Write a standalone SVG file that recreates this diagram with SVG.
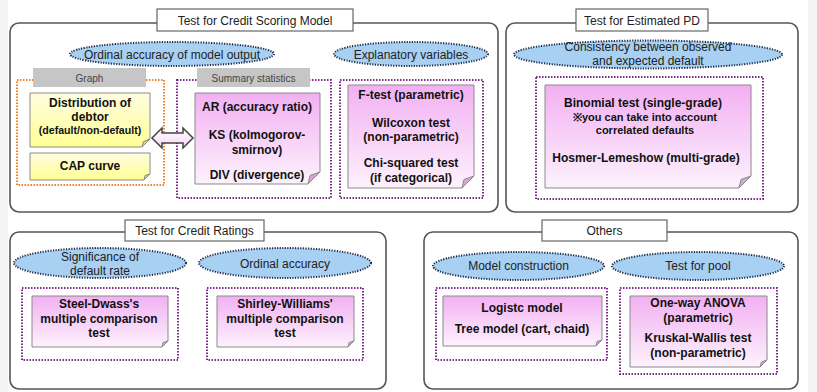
<svg xmlns="http://www.w3.org/2000/svg" width="817" height="392" viewBox="0 0 817 392">
<defs>
<linearGradient id="pink" x1="0" y1="0" x2="0" y2="1">
<stop offset="0" stop-color="#f2b0f2"/>
<stop offset="1" stop-color="#fdf2fd"/>
</linearGradient>
<linearGradient id="yellow" x1="0" y1="0" x2="0" y2="1">
<stop offset="0" stop-color="#fffde0"/>
<stop offset="1" stop-color="#ffff94"/>
</linearGradient>
<linearGradient id="arrowfill" x1="0" y1="0" x2="0" y2="1">
<stop offset="0" stop-color="#ffffff"/>
<stop offset="1" stop-color="#f6d6f6"/>
</linearGradient>
</defs>
<style>
.panel{fill:#ffffff;stroke:#555555;stroke-width:1.6}
.title{fill:#ffffff;stroke:#666666;stroke-width:1.2}
.tt{font-family:"Liberation Sans",Arial,sans-serif;font-size:12px;fill:#222222;text-anchor:middle}
.ell{fill:#a8d0f2;stroke:#1e2a48;stroke-width:2;stroke-dasharray:1.2 1.4}
.et{font-family:"Liberation Sans",Arial,sans-serif;font-size:12px;fill:#222222;text-anchor:middle}
.purp{fill:none;stroke:#7a2a88;stroke-width:2;stroke-dasharray:1.5 1.5}
.orng{fill:none;stroke:#f0802a;stroke-width:2;stroke-dasharray:1.5 1.5}
.lab{fill:#c6c6c6}
.lt{font-family:"Liberation Sans",Arial,sans-serif;font-size:10px;fill:#444444;text-anchor:middle}
.pk{fill:url(#pink);stroke:#8a8a8a;stroke-width:1}
.yl{fill:url(#yellow);stroke:#8a8a8a;stroke-width:1}
.fpk{fill:#d6a6d6;stroke:#8a8a8a;stroke-width:1}
.fyl{fill:#d8d488;stroke:#8a8a8a;stroke-width:1}
.bt{font-family:"Liberation Sans",Arial,sans-serif;font-size:12px;font-weight:bold;fill:#111111;text-anchor:middle}
.bs{font-family:"Liberation Sans",Arial,sans-serif;font-size:10.6px;font-weight:bold;fill:#111111;text-anchor:middle}
</style>
<rect x="0" y="0" width="817" height="392" fill="#ffffff"/>
<rect x="0" y="0" width="8" height="392" fill="#f4f4f4"/>
<rect x="808" y="0" width="9" height="392" fill="#f4f4f4"/>

<!-- Panel 1 -->
<g id="panel-credit-scoring">
<rect class="panel" x="10" y="23" width="488" height="189" rx="9"/>
<rect class="title" x="157" y="9" width="196" height="22"/>
<text class="tt" x="255" y="24.5">Test for Credit Scoring Model</text>
</g>
<g id="ell-ordinal">
<ellipse class="ell" cx="172" cy="54" rx="102" ry="12"/>
<text class="et" x="172" y="58.5">Ordinal accuracy of model output</text>
</g>
<g id="graph-group">
<rect class="orng" x="17" y="80" width="147" height="105"/>
<rect class="lab" x="33" y="68" width="113" height="19"/>
<text class="lt" x="89.5" y="81.5">Graph</text>
</g>
<g id="node-distribution">
<path class="yl" d="M30,93 H150 V139 L142,147 H30 Z"/>
<path class="fyl" d="M150,139 L143.5,141.5 L142,147 Z"/>
<text class="bt" x="90" y="107">Distribution of</text>
<text class="bt" x="90" y="121">debtor</text>
<text class="bs" x="90" y="134">(default/non-default)</text>
</g>
<g id="node-cap">
<path class="yl" d="M30,153 H150 V174 L144,180 H30 Z"/>
<path class="fyl" d="M150,174 L145,175.5 L144,180 Z"/>
<text class="bt" x="90" y="170">CAP curve</text>
</g>
<g id="summary-group">
<rect class="purp" x="177" y="80" width="154" height="118"/>
<rect class="lab" x="197" y="68" width="113" height="19"/>
<text class="lt" x="253.5" y="81.5">Summary statistics</text>
</g>
<g id="node-summary">
<path class="pk" d="M195,93 H320 V172 L308,184 H195 Z"/>
<path class="fpk" d="M320,172 L310,175.5 L308,184 Z"/>
<text class="bt" x="257" y="111">AR (accuracy ratio)</text>
<text class="bt" x="257" y="139">KS (kolmogorov-</text>
<text class="bt" x="257" y="154">smirnov)</text>
<text class="bt" x="257" y="179">DIV (divergence)</text>
</g>
<g id="ell-explanatory">
<ellipse class="ell" cx="411" cy="54" rx="77" ry="12"/>
<text class="et" x="411" y="58.5">Explanatory variables</text>
</g>
<g id="explanatory-group">
<rect class="purp" x="340" y="80" width="143" height="118"/>
</g>
<g id="node-explanatory">
<path class="pk" d="M348,85 H474 V176 L462,188 H348 Z"/>
<path class="fpk" d="M474,176 L464,179.5 L462,188 Z"/>
<text class="bt" x="411" y="99">F-test (parametric)</text>
<text class="bt" x="411" y="127">Wilcoxon test</text>
<text class="bt" x="411" y="141">(non-parametric)</text>
<text class="bt" x="411" y="167">Chi-squared test</text>
<text class="bt" x="411" y="182">(if categorical)</text>
</g>

<!-- Panel 2 -->
<g id="panel-estimated-pd">
<rect class="panel" x="506" y="23" width="292" height="189" rx="9"/>
<rect class="title" x="576" y="9" width="132" height="22"/>
<text class="tt" x="642" y="24.5">Test for Estimated PD</text>
</g>
<g id="ell-consistency">
<ellipse class="ell" cx="648" cy="54.5" rx="134" ry="14"/>
<text class="et" x="648" y="51">Consistency between observed</text>
<text class="et" x="648" y="65">and expected default</text>
</g>
<g id="pd-group">
<rect class="purp" x="536" y="77" width="227" height="122"/>
</g>
<g id="node-pd">
<path class="pk" d="M545,85 H751 V176 L739,188 H545 Z"/>
<path class="fpk" d="M751,176 L741,179.5 L739,188 Z"/>
<text class="bt" x="643" y="107">Binomial test (single-grade)</text>
<text class="bs" x="645" y="121" style="font-size:11px">※you can take into account</text>
<text class="bs" x="645" y="134" style="font-size:11px">correlated defaults</text>
<text class="bt" x="646" y="162">Hosmer-Lemeshow (multi-grade)</text>
</g>

<!-- Panel 3 -->
<g id="panel-credit-ratings">
<rect class="panel" x="10" y="232" width="376" height="157" rx="9"/>
<rect class="title" x="125" y="220" width="139" height="21"/>
<text class="tt" x="194.5" y="235">Test for Credit Ratings</text>
</g>
<g id="ell-significance">
<ellipse class="ell" cx="100" cy="263" rx="86" ry="15"/>
<text class="et" x="100" y="261">Significance of</text>
<text class="et" x="100" y="275">default rate</text>
</g>
<g id="ell-ordinal2">
<ellipse class="ell" cx="285" cy="263" rx="86" ry="15"/>
<text class="et" x="285" y="268">Ordinal accuracy</text>
</g>
<g id="steel-group">
<rect class="purp" x="22" y="288" width="156" height="72"/>
</g>
<g id="node-steel">
<path class="pk" d="M32,296 H168 V341 L162,347 H32 Z"/>
<path class="fpk" d="M168,341 L163,342.5 L162,347 Z"/>
<text class="bt" x="99" y="308">Steel-Dwass's</text>
<text class="bt" x="99" y="323">multiple comparison</text>
<text class="bt" x="99" y="337">test</text>
</g>
<g id="shirley-group">
<rect class="purp" x="207" y="288" width="156" height="72"/>
</g>
<g id="node-shirley">
<path class="pk" d="M217,296 H354 V341 L348,347 H217 Z"/>
<path class="fpk" d="M354,341 L349,342.5 L348,347 Z"/>
<text class="bt" x="285" y="308">Shirley-Williams'</text>
<text class="bt" x="285" y="323">multiple comparison</text>
<text class="bt" x="285" y="337">test</text>
</g>

<!-- Panel 4 -->
<g id="panel-others">
<rect class="panel" x="424" y="232" width="374" height="157" rx="9"/>
<rect class="title" x="542" y="220" width="125" height="21"/>
<text class="tt" x="604.5" y="235">Others</text>
</g>
<g id="ell-model">
<ellipse class="ell" cx="518.5" cy="266" rx="85.5" ry="14"/>
<text class="et" x="518.5" y="269.5">Model construction</text>
</g>
<g id="ell-pool">
<ellipse class="ell" cx="698" cy="266" rx="86" ry="14"/>
<text class="et" x="698" y="269.5">Test for pool</text>
</g>
<g id="model-group">
<rect class="purp" x="436" y="288" width="171" height="72"/>
</g>
<g id="node-model">
<path class="pk" d="M443,296 H602 V340 L596,346 H443 Z"/>
<path class="fpk" d="M602,340 L597,341.5 L596,346 Z"/>
<text class="bt" x="522" y="312">Logistc model</text>
<text class="bt" x="522" y="333">Tree model (cart, chaid)</text>
</g>
<g id="pool-group">
<rect class="purp" x="620" y="288" width="157" height="86"/>
</g>
<g id="node-pool">
<path class="pk" d="M630,296 H767 V360 L760,367 H630 Z"/>
<path class="fpk" d="M767,360 L761.5,362 L760,367 Z"/>
<text class="bt" x="698" y="307">One-way ANOVA</text>
<text class="bt" x="698" y="322">(parametric)</text>
<text class="bt" x="698" y="342">Kruskal-Wallis test</text>
<text class="bt" x="698" y="357">(non-parametric)</text>
</g>

<g id="connectors">
<path d="M152,138 L162,128 V133 H183 V128 L193,138 L183,148 V143 H162 V148 Z" fill="url(#arrowfill)" stroke="#444444" stroke-width="1.5" stroke-linejoin="miter"/>
</g>
</svg>
